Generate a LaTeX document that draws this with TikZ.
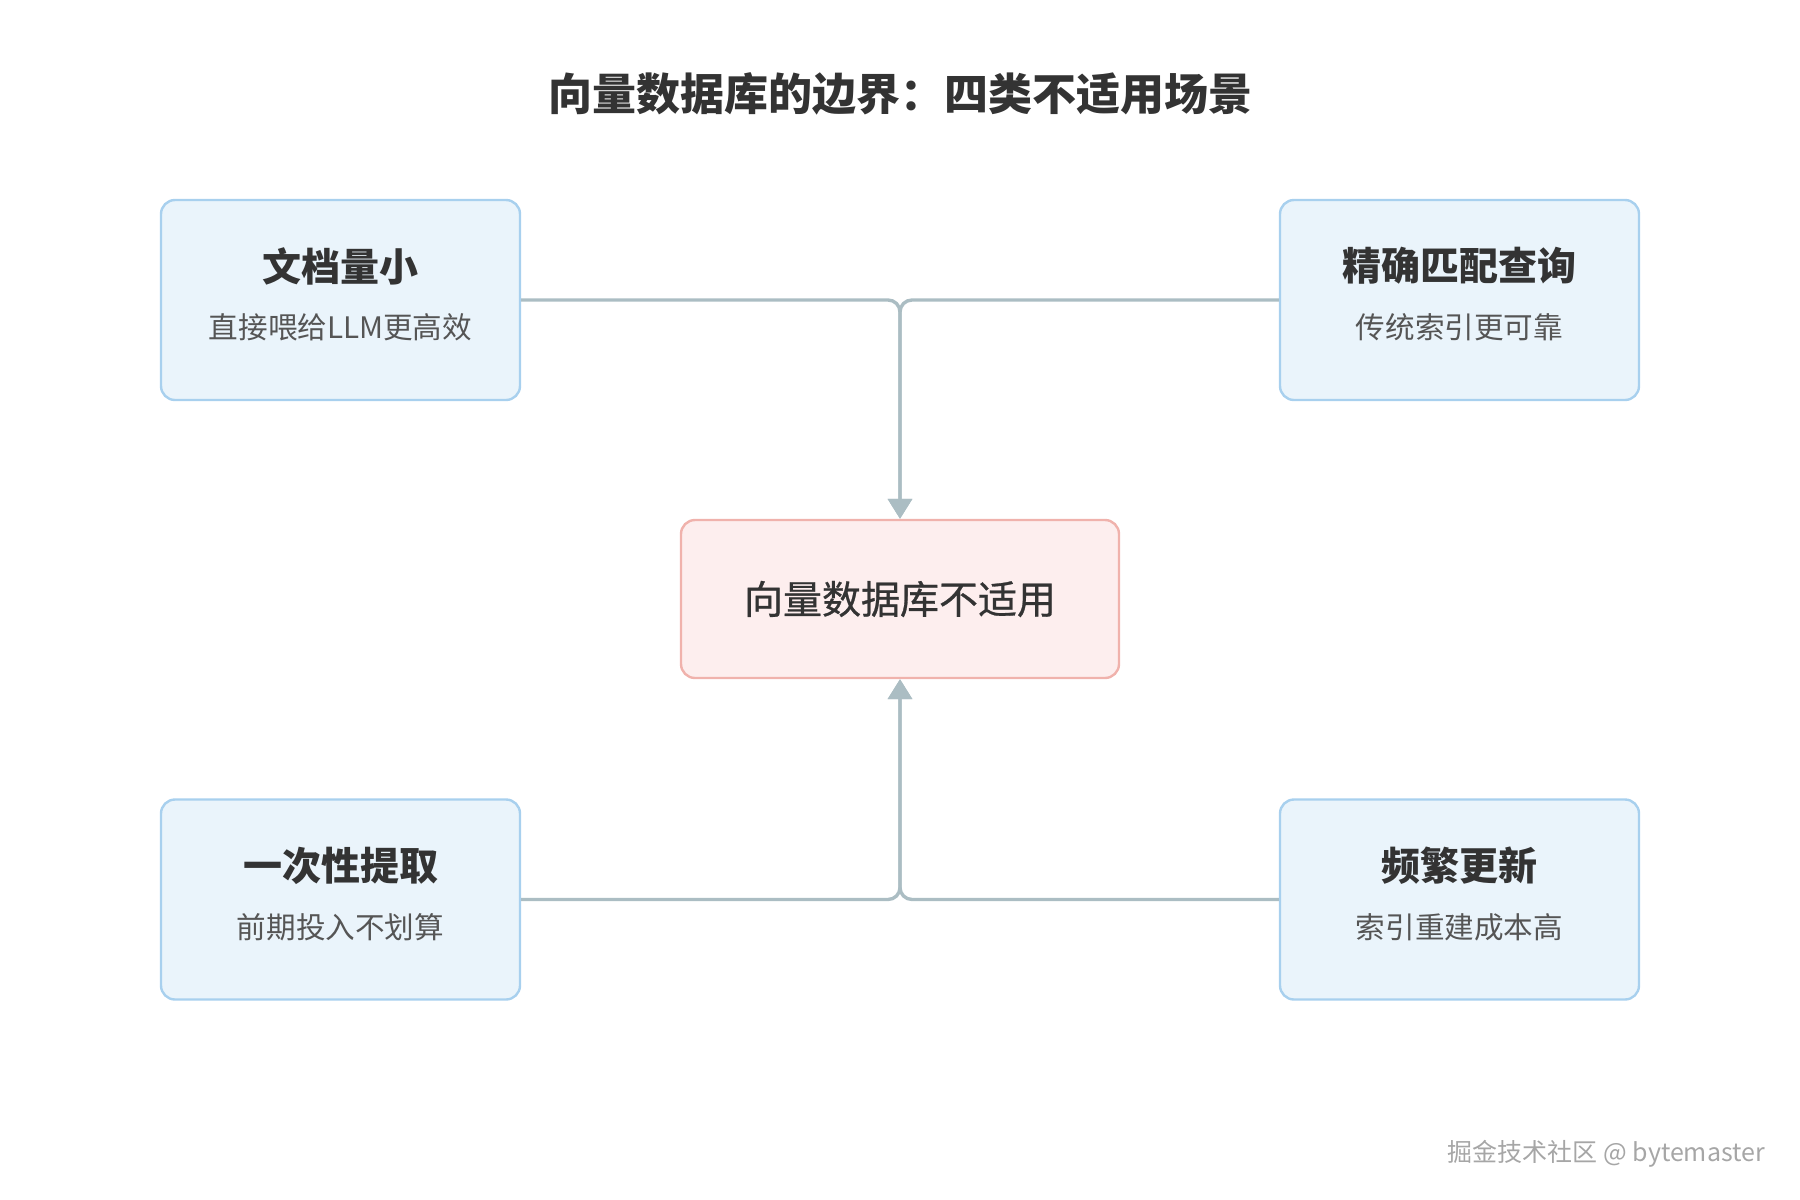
\documentclass[tikz,border=0pt]{standalone}
\usepackage{fontspec}
\setmainfont{Noto Sans CJK SC}
\newfontfamily\hubfont[FakeBold=0.7]{Noto Sans CJK SC}
\usetikzlibrary{arrows.meta}
\definecolor{boxfill}{HTML}{EAF4FB}
\definecolor{boxline}{HTML}{A8D0EE}
\definecolor{hubfill}{HTML}{FDEEEE}
\definecolor{hubline}{HTML}{F0B2AC}
\definecolor{linkgray}{HTML}{ABBDC3}
\definecolor{ink}{HTML}{333333}
\definecolor{subink}{HTML}{555555}
\tikzset{
  casebox/.style={draw=boxline,fill=boxfill,line width=1.2pt,rounded corners=7pt,
    minimum width=179.5pt,minimum height=100pt,inner sep=0pt},
  hubbox/.style={draw=hubline,fill=hubfill,line width=1.2pt,rounded corners=7pt,
    minimum width=219pt,minimum height=79pt,inner sep=0pt,text=ink,
    font=\hubfont\fontsize{19.5}{24}\selectfont},
  casetitle/.style={text=ink,font=\fontsize{19.5}{24}\selectfont\bfseries},
  casesub/.style={text=subink,font=\fontsize{14.8}{18}\selectfont},
  link/.style={draw=linkgray,line width=1.7pt,rounded corners=6pt,
    -{Triangle[width=12pt,length=10pt]}}
}
\begin{document}
\begin{tikzpicture}[x=0.5pt,y=-0.5pt]
  \useasboundingbox (0,0) rectangle (1800,1200);
  % title
  \node[text=ink,font=\fontsize{22}{26}\selectfont\bfseries] (title) at (900,94)
    {向量数据库的边界：四类不适用场景};
  % hub
  \node[hubbox] (hub) at (900,599) {向量数据库不适用};
  % four cases
  \node[casebox] (small) at (340.5,300) {};
  \node[casebox] (exact) at (1459.5,300) {};
  \node[casebox] (once) at (340.5,899.5) {};
  \node[casebox] (update) at (1459.5,899.5) {};
  \node[casetitle] (smallT) at (340.5,266) {文档量小};
  \node[casesub] (smallS) at (340.5,327) {直接喂给LLM更高效};
  \node[casetitle] (exactT) at (1459.5,266) {精确匹配查询};
  \node[casesub] (exactS) at (1459.5,327) {传统索引更可靠};
  \node[casetitle] (onceT) at (340.5,866) {一次性提取};
  \node[casesub] (onceS) at (340.5,927) {前期投入不划算};
  \node[casetitle] (updateT) at (1459.5,866) {频繁更新};
  \node[casesub] (updateS) at (1459.5,927) {索引重建成本高};
  % links
  \draw[link] (small.east) -| (hub.north);
  \draw[link] (exact.west) -| (hub.north);
  \draw[link] (once.east) -| (hub.south);
  \draw[link] (update.west) -| (hub.south);
  % watermark
  \node[anchor=east,text=gray!70,font=\fontsize{12.5}{15}\selectfont] (mark) at (1772,1154)
    {掘金技术社区 @ bytemaster};
\end{tikzpicture}
\end{document}
